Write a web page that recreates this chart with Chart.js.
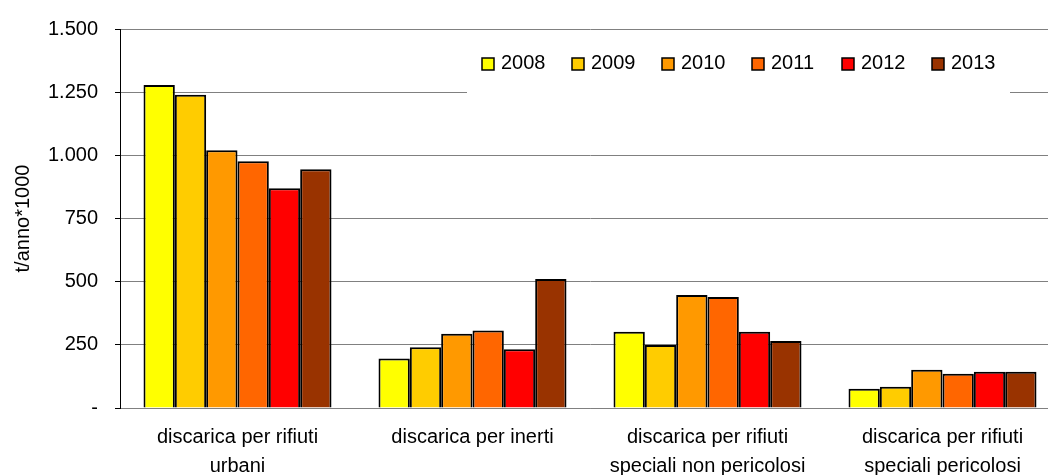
<!DOCTYPE html>
<html>
<head>
<meta charset="utf-8">
<script src="https://cdn.jsdelivr.net/npm/chart.js@4/dist/chart.umd.min.js"></script>
<style>
  html, body { margin: 0; padding: 0; background: #fff; overflow: hidden; }
  #wrap { width: 1048px; height: 475px; overflow: hidden; position: relative; }
  #chart { position: absolute; left: 0; top: 0; }
</style>
</head>
<body>
<div id="wrap"><canvas id="chart" width="1060" height="475"></canvas></div>
<script>
// categories (x axis, two lines each)
const categories = [
    ["discarica per rifiuti", "urbani"],
    ["discarica per inerti"],
    ["discarica per rifiuti", "speciali non pericolosi"],
    ["discarica per rifiuti", "speciali pericolosi"],
];
const years = ["2008", "2009", "2010", "2011", "2012", "2013"];
const colors = ["#FFFF00", "#FFCC00", "#FF9900", "#FF6600", "#FF0000", "#993300"];

// t/anno*1000, one array per year
const v2008 = [1278, 196, 302, 76];
const v2009 = [1240, 240, 249, 84];
const v2010 = [1020, 294, 447, 151];
const v2011 = [977, 307, 439, 136];
const v2012 = [870, 233, 302, 143];
const v2013 = [945, 511, 265, 143];
const series = [v2008, v2009, v2010, v2011, v2012, v2013];

const yTicks = [0, 250, 500, 750, 1000, 1250, 1500];

const FONT = "'Liberation Sans', Arial, sans-serif";

// legend drawn inside the plot on a white box
const boxLegend = {
    id: "boxLegend",
    afterDatasetsDraw(chart) {
        const ctx = chart.ctx;
        ctx.save();
        ctx.fillStyle = "#fff";
        ctx.fillRect(467, 40, 543, 56);
        ctx.font = "20px " + FONT;
        ctx.textBaseline = "middle";
        chart.data.datasets.forEach((ds, i) => {
            const x = 482 + i * 90;
            ctx.fillStyle = ds.backgroundColor;
            ctx.fillRect(x, 58, 12, 12);
            ctx.strokeStyle = "#000";
            ctx.lineWidth = 1.5;
            ctx.strokeRect(x, 58, 12, 12);
            ctx.fillStyle = "#000";
            ctx.fillText(ds.label, x + 19, 63);
        });
        ctx.restore();
    },
};

new Chart(document.getElementById("chart"), {
    type: "bar",
    data: {
        labels: categories,
        datasets: years.map((y, i) => ({
            label: y,
            data: series[i],
            backgroundColor: colors[i],
            borderColor: "#000",
            borderWidth: 2,
            categoryPercentage: 0.8,
            barPercentage: 1.0,
        })),
    },
    options: {
        responsive: false,
        animation: false,
        devicePixelRatio: 1,
        layout: { padding: { top: 28, right: 0, left: 0, bottom: 0 } },
        plugins: {
            legend: { display: false },
            tooltip: { enabled: false },
        },
        scales: {
            x: {
                grid: { display: false, drawTicks: false },
                border: { display: true, color: "#808080", width: 1 },
                ticks: {
                    color: "#000",
                    font: { family: FONT, size: 20, lineHeight: 1.45 },
                    padding: 15,
                    maxRotation: 0,
                    autoSkip: false,
                },
                afterFit(scale) { scale.height = 67; },
            },
            y: {
                min: 0,
                max: 1500,
                afterBuildTicks(scale) {
                    scale.ticks = yTicks.map(v => ({ value: v }));
                },
                grid: {
                    color: "#808080",
                    lineWidth: 1,
                    tickColor: "#000",
                    tickLength: 5,
                },
                border: { display: true, color: "#000", width: 1 },
                ticks: {
                    color: "#000",
                    font: { family: FONT, size: 20 },
                    padding: 17,
                    callback: v => v === 0 ? "-" : v.toLocaleString("de-DE"),
                },
                title: {
                    display: true,
                    text: "t/anno*1000",
                    color: "#000",
                    font: { family: FONT, size: 20 },
                    padding: { top: 11, bottom: 0 },
                },
                afterFit(scale) { scale.width = 120; },
            },
        },
    },
    plugins: [boxLegend],
});
</script>
</body>
</html>
